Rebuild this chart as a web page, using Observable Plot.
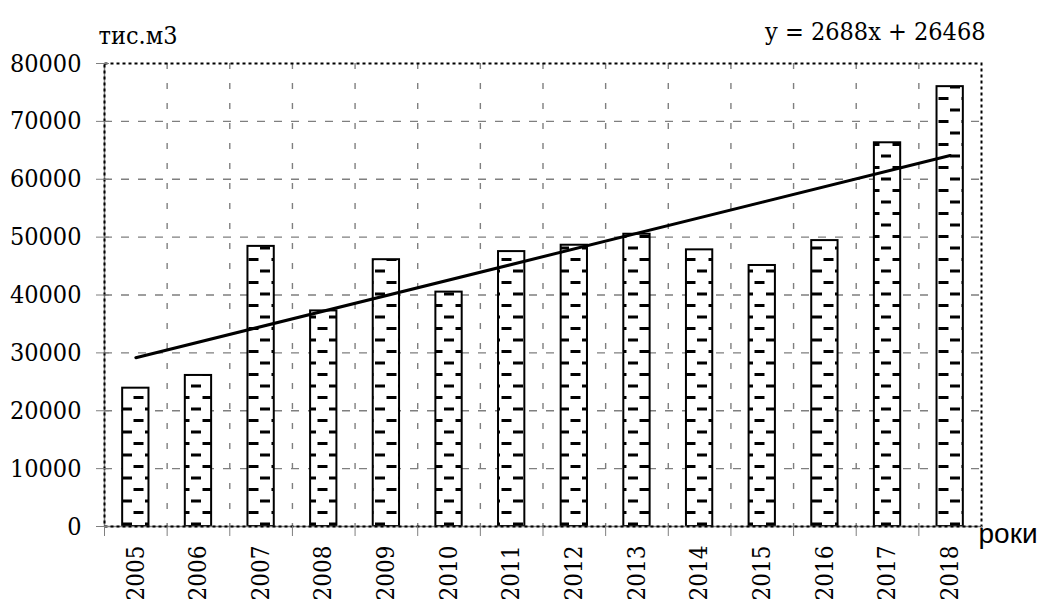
<!DOCTYPE html>
<html>
<head>
<meta charset="utf-8">
<script src="https://cdn.jsdelivr.net/npm/d3@7"></script>
<script src="https://cdn.jsdelivr.net/npm/@observablehq/plot@0.6"></script>
<style>
  html, body { margin: 0; padding: 0; background: #fff; }
  #chart svg { display: block; }
  #chart svg text.serif { font-stretch: condensed; }
</style>
</head>
<body>
<div id="chart"></div>
<script>
// ---- data ----
const years = [2005, 2006, 2007, 2008, 2009, 2010, 2011, 2012, 2013, 2014, 2015, 2016, 2017, 2018];
const volumes = [23900, 26100, 48400, 37250, 46100, 40500, 47500, 48600, 50500, 47800, 45100, 49400, 66300, 76000];
const yTicks = [0, 10000, 20000, 30000, 40000, 50000, 60000, 70000, 80000];
const trendSlope = 2688;
const trendIntercept = 26468;
const trendLabel = "y = 2688x + 26468";
const unitLabel = "тис.м3";
const xLabel = "роки";

// ---- derived tables ----
const rows = years.map((year, i) => ({year, volume: volumes[i]}));
const boundaries = [years[0] - 0.5, ...years.map(y => y + 0.5)];
const trend = [years[0], years[years.length - 1]].map(year => ({
  year,
  value: trendSlope * (years.indexOf(year) + 1) + trendIntercept
}));

const gray = "#7f7f7f";
const half = 0.21;
const serif = "'DejaVu Serif Condensed', 'DejaVu Serif', serif";

const chart = Plot.plot({
  width: 1043,
  height: 606,
  marginLeft: 104,
  marginRight: 62,
  marginTop: 63,
  marginBottom: 80,
  style: {fontSize: "25px", color: "black", background: "white"},
  x: {type: "linear", domain: [boundaries[0], boundaries[boundaries.length - 1]]},
  y: {domain: [0, 80000]},
  marks: [
    // grid
    Plot.ruleY(yTicks.slice(1, -1), {stroke: gray, strokeWidth: 1.4, strokeDasharray: "8,9"}),
    Plot.ruleX(boundaries.slice(1, -1), {stroke: gray, strokeWidth: 1.4, strokeDasharray: "6,14"}),
    // bars
    Plot.rectY(rows, {x1: d => d.year - half, x2: d => d.year + half, y: "volume", fill: "white"}),
    Plot.rectY(rows, {x1: d => d.year - half, x2: d => d.year + half, y: "volume", fill: "url(#dashpat)", stroke: "black", strokeWidth: 2}),
    // trend line
    Plot.line(trend, {x: "year", y: "value", stroke: "black", strokeWidth: 3}),
    // axis lines
    Plot.ruleX([boundaries[0]], {stroke: gray, strokeWidth: 1.5}),
    Plot.ruleY([0], {stroke: gray, strokeWidth: 1.5}),
    // frame
    Plot.frame({stroke: "black", strokeWidth: 2, strokeDasharray: "3,3"}),
    // y axis
    Plot.axisY(yTicks, {tickSize: 8, tickPadding: 15, stroke: gray, fill: "black", tickFormat: d => String(d), label: null, fontSize: 25, fontFamily: serif}),
    Plot.axisY(yTicks, {tickSize: -5, text: null, stroke: gray, label: null}),
    // x axis ticks at band boundaries
    Plot.axisX(boundaries, {tickSize: 10, text: null, stroke: gray, label: null}),
    // x axis labels (years)
    Plot.axisX(years, {tickSize: 0, tickRotate: -90, tickPadding: 19, tickFormat: d => String(d), fill: "black", label: null, fontSize: 24, fontFamily: serif}),
    // annotations
    Plot.text([unitLabel], {frameAnchor: "top-left", text: d => d, textAnchor: "start", lineAnchor: "bottom", dx: -6, dy: -20, fontSize: 25, fontFamily: serif}),
    Plot.text([trendLabel], {frameAnchor: "top-right", text: d => d, textAnchor: "end", lineAnchor: "bottom", dx: 4, dy: -24, fontSize: 25, fontFamily: serif}),
    Plot.text([xLabel], {frameAnchor: "bottom-right", text: d => d, textAnchor: "start", lineAnchor: "middle", dx: -3, dy: 8, fontSize: 28, fontFamily: "'Liberation Sans', Arial, sans-serif"})
  ]
});

// pattern of short horizontal dashes for the bars
d3.select(chart).insert("defs", ":first-child").html(`
  <pattern id="dashpat" patternUnits="userSpaceOnUse" x="7" y="5" width="23" height="23">
    <rect x="0" y="0" width="23" height="23" fill="white"></rect>
    <rect x="11.5" y="0" width="10" height="3" fill="black"></rect>
    <rect x="0" y="11.5" width="10" height="3" fill="black"></rect>
  </pattern>
`);

// condensed stretch for the serif texts
d3.select(chart).selectAll("text").filter(function() { return this.textContent !== xLabel; }).classed("serif", true);

document.getElementById("chart").appendChild(chart);
</script>
</body>
</html>
